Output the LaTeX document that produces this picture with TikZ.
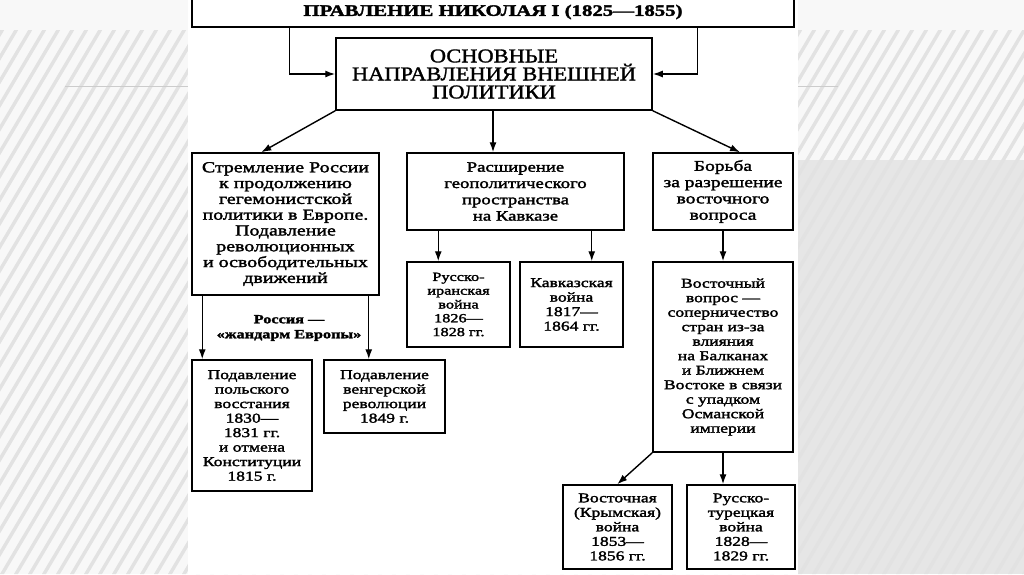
\documentclass[tikz,border=0pt]{standalone}
\usepackage{fontspec}
\setmainfont{Liberation Serif}[FakeStretch=1.3, FakeBold=2]
\newfontfamily\capsfont{Liberation Serif}[FakeStretch=1.15, FakeBold=1.5]
\usetikzlibrary{arrows.meta}

\definecolor{slidebg}{RGB}{248,248,248}
\definecolor{stripegray}{RGB}{226,226,226}
\definecolor{slideshade}{RGB}{230,230,230}

\begin{document}
\begin{tikzpicture}[
    x=1pt, y=-1pt,
    font=\fontsize{13.5}{14.5}\selectfont,
    box/.style={draw, line width=1.5pt, fill=white, align=center, inner sep=0pt},
    arrow/.style={-{Latex[length=10pt,width=7pt]}, line width=1.4pt},
    stripe/.style={fill=stripegray}
]
\useasboundingbox (0,0) rectangle (1024,574);

% slide background
\fill[slidebg] (0,0) rectangle (1024,574);
\begin{scope}
    \clip (0,30) rectangle (1024,574);
    \fill[slideshade] (798,160) rectangle (1024,574);
    \foreach \i in {-30,...,80}
        \path[stripe] (\i*14,574) -- ++(4,0) -- ++(340,-574) -- ++(-4,0) -- cycle;
\end{scope}
\draw[gray!40, line width=0.8pt] (65,86) -- (188,86);
\draw[gray!40, line width=0.8pt] (798,86) -- (838,86);
\fill[white] (188,0) rectangle (798,574);

% top rows
\node[box, font=\fontsize{16}{18}\selectfont\bfseries,
      minimum width=602pt, minimum height=30pt] (reign) at (493,12)
      {ПРАВЛЕНИЕ НИКОЛАЯ I (1825—1855)};
\node[box, font=\capsfont\fontsize{19.5}{18}\selectfont,
      minimum width=316pt, minimum height=72pt] (aims) at (494,74)
      {ОСНОВНЫЕ\\НАПРАВЛЕНИЯ ВНЕШНЕЙ\\ПОЛИТИКИ};

% three directions
\node[box, font=\fontsize{15.3}{15.8}\selectfont,
      minimum width=187pt, minimum height=142pt] (europe) at (285.5,224)
      {Стремление России\\к продолжению\\гегемонистской\\политики в Европе.\\Подавление\\революционных\\и освободительных\\движений};
\node[box, font=\fontsize{14.4}{16.3}\selectfont,
      minimum width=217pt, minimum height=77pt] (caucasus) at (515.5,191.5)
      {Расширение\\геополитического\\пространства\\на Кавказе};
\node[box, font=\fontsize{15}{16.3}\selectfont,
      minimum width=140pt, minimum height=77pt] (east) at (723,191.5)
      {Борьба\\за разрешение\\восточного\\вопроса};

% second level
\node[box, font=\fontsize{12.5}{13.8}\selectfont,
      minimum width=103pt, minimum height=85pt] (iran) at (458.5,304.5)
      {Русско-\\иранская\\война\\1826—\\1828 гг.};
\node[box, minimum width=103pt, minimum height=85pt] (kavwar) at (571.5,304.5)
      {Кавказская\\война\\1817—\\1864 гг.};
\node[box, minimum width=140pt, minimum height=190pt] (eastq) at (723,357)
      {Восточный\\вопрос —\\соперничество\\стран из-за\\влияния\\на Балканах\\и Ближнем\\Востоке в связи\\с упадком\\Османской\\империи};
\node[box, minimum width=120pt, minimum height=131pt] (poland) at (252,425.5)
      {Подавление\\польского\\восстания\\1830—\\1831 гг.\\и отмена\\Конституции\\1815 г.};
\node[box, minimum width=121pt, minimum height=73pt] (hungary) at (384.5,396.5)
      {Подавление\\венгерской\\революции\\1849 г.};
\node[box, minimum width=109pt, minimum height=84pt] (crimea) at (617.5,527)
      {Восточная\\(Крымская)\\война\\1853—\\1856 гг.};
\node[box, minimum width=108pt, minimum height=84pt] (turkey) at (741,527)
      {Русско-\\турецкая\\война\\1828—\\1829 гг.};

\node[align=center, font=\fontsize{12.5}{15}\selectfont\bfseries] (gendarme) at (289,328)
      {Россия —\\«жандарм Европы»};

% connectors
\draw[arrow] ([xshift=98pt]reign.south west) |- (aims.west);
\draw[arrow] ([xshift=-97pt]reign.south east) |- (aims.east);
\draw[arrow] (aims.south west) -- ([xshift=70pt]europe.north west);
\draw[arrow] ([xshift=-1pt]aims.south) -- ([xshift=-1pt]aims.south |- caucasus.north);
\draw[arrow] (aims.south east) -- ([xshift=17pt]east.north);

\coordinate (c1) at ([xshift=32pt]caucasus.south west);
\coordinate (c2) at ([xshift=-33pt]caucasus.south east);
\draw[arrow] (c1) -- (c1 |- iran.north);
\draw[arrow] (c2) -- (c2 |- kavwar.north);
\draw[arrow] (east.south) -- (eastq.north);

\coordinate (e1) at ([xshift=11pt]europe.south west);
\coordinate (e2) at ([xshift=-11pt]europe.south east);
\draw[arrow] (e1) -- (e1 |- poland.north);
\draw[arrow] (e2) -- (e2 |- hungary.north);

\draw[arrow] (eastq.south west) -- ([xshift=55pt]crimea.north west);
\draw[arrow] (eastq.south) -- (eastq.south |- turkey.north);

\end{tikzpicture}
\end{document}
